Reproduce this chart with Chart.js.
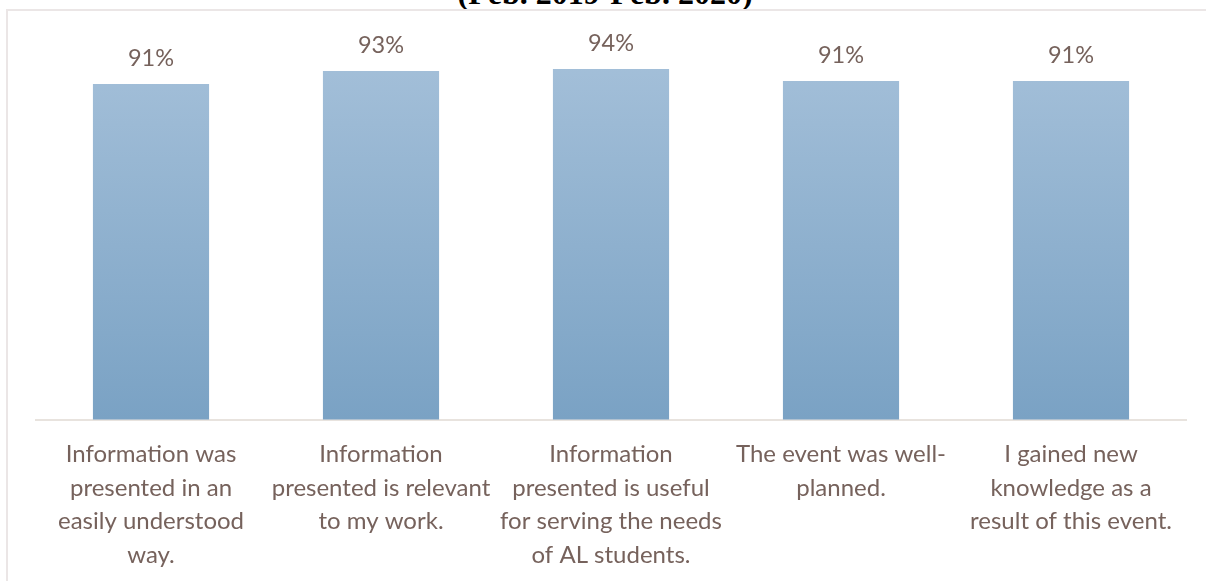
<!DOCTYPE html>
<html lang="en">
<head>
    <meta charset="UTF-8">
    <title>Event Evaluation</title>
    <script src="https://cdn.jsdelivr.net/npm/chart.js"></script>
    <style>
        html, body {
            margin: 0;
            padding: 0;
            background: #fff;
        }
        #wrap {
            position: relative;
            width: 1206px;
            height: 581px;
            overflow: hidden;
        }
        #title {
            position: absolute;
            left: 0;
            width: 1210px;
            top: -23px;
            text-align: center;
            font: bold 32px "Liberation Serif", "DejaVu Serif", serif;
            line-height: 32px;
            color: #000;
        }
        #frame {
            position: absolute;
            left: 6px;
            top: 9px;
            width: 1300px;
            height: 700px;
            border-top: 2px solid #ebe6e6;
            border-left: 2px solid #ebe6e6;
        }
        #c {
            position: absolute;
            left: 0;
            top: 0;
        }
    </style>
</head>
<body>
<div id="wrap">
    <div id="title">(Feb. 2019-Feb. 2020)</div>
    <div id="frame"></div>
    <canvas id="c" width="1206" height="590"></canvas>
</div>
<script>
    // categories (already wrapped the way the original shows them)
    const categories = [
        ["Information was", "presented in an", "easily understood", "way."],
        ["Information", "presented is relevant", "to my work."],
        ["Information", "presented is useful", "for serving the needs", "of AL students."],
        ["The event was well-", "planned."],
        ["I gained new", "knowledge as a", "result of this event."]
    ];
    // percent agree
    const agree = [90.6, 93.2, 93.6, 91.2, 91.2];
    const valueLabels = ["91%", "93%", "94%", "91%", "91%"];

    const textColor = '#76625c';

    function barFill(context) {
        const chart = context.chart;
        const area = chart.chartArea;
        if (!area) return '#8fb0d0';
        let g = chart.ctx.createLinearGradient(0, area.top, 0, area.bottom);
        g.addColorStop(0, '#a6c1da');
        g.addColorStop(1, '#7aa2c4');
        return g;
    }

    // draw the % above each bar
    const topLabels = {
        id: 'topLabels',
        afterDatasetsDraw(chart) {
            let ctx = chart.ctx;
            let meta = chart.getDatasetMeta(0);
            ctx.save();
            ctx.fillStyle = textColor;
            ctx.font = '23.5px Lato, sans-serif';
            ctx.textAlign = 'center';
            ctx.textBaseline = 'middle';
            meta.data.forEach(function(bar, i) {
                ctx.fillText(valueLabels[i], bar.x, bar.y - 26);
            });
            ctx.restore();
        }
    };

    const chart = new Chart(document.getElementById('c'), {
        type: 'bar',
        data: {
            labels: categories,
            datasets: [{
                data: agree,
                backgroundColor: barFill,
                borderWidth: 0,
                barPercentage: 0.505,
                categoryPercentage: 1.0
            }]
        },
        options: {
            responsive: false,
            animation: false,
            layout: {
                padding: { left: 36, right: 20, top: 37, bottom: 0 }
            },
            plugins: {
                legend: { display: false },
                tooltip: { enabled: false }
            },
            scales: {
                x: {
                    grid: { display: false, drawTicks: false },
                    border: { display: true, color: '#e8e3de', width: 2 },
                    ticks: {
                        color: textColor,
                        font: { family: 'Lato', size: 24, lineHeight: 1.4 },
                        padding: 18,
                        autoSkip: false,
                        maxRotation: 0,
                        minRotation: 0
                    }
                },
                y: {
                    display: false,
                    min: 23.4,
                    max: 100
                }
            }
        },
        plugins: [topLabels]
    });
</script>
</body>
</html>
